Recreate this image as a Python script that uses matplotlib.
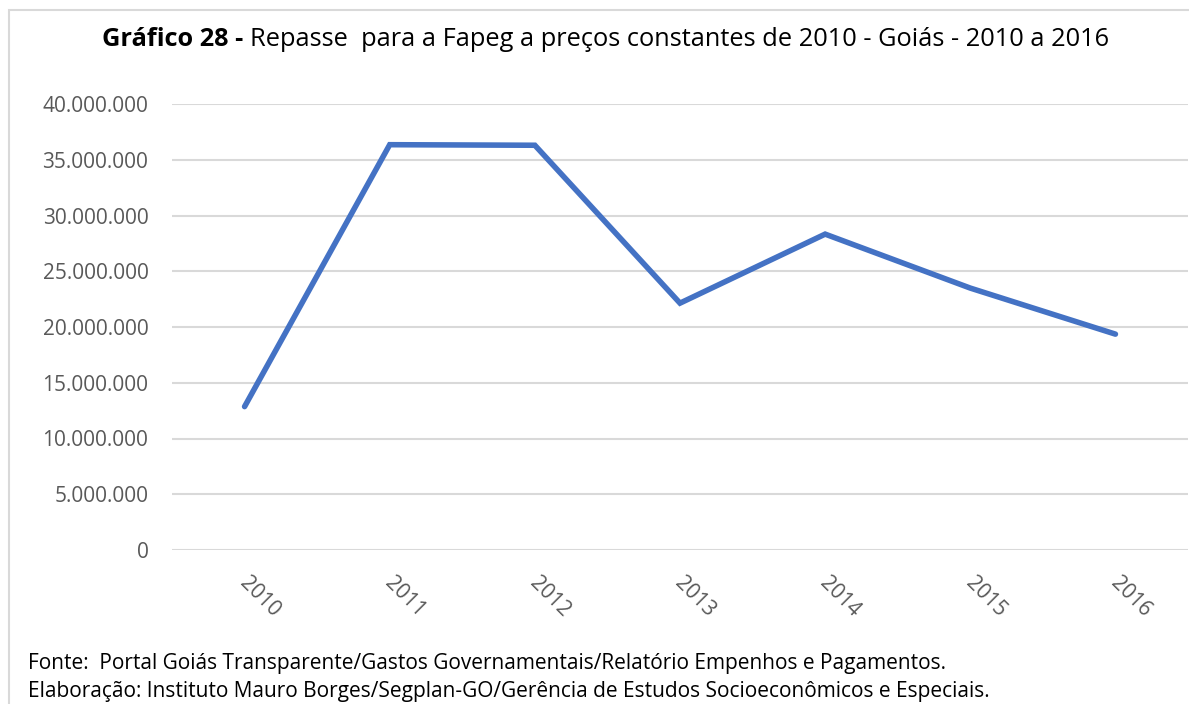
import numpy as np
import matplotlib
matplotlib.use("Agg")
import matplotlib.pyplot as plt
import matplotlib.transforms as mtransforms
from matplotlib.ticker import FuncFormatter
from matplotlib.patches import Rectangle

# dados
anos = ["2010", "2011", "2012", "2013", "2014", "2015", "2016"]
repasse = [12860000, 36350000, 36300000, 22140000, 28330000, 23490000, 19360000]
yticks = [0, 5000000, 10000000, 15000000, 20000000, 25000000, 30000000, 35000000, 40000000]

titulo_negrito = "Gráfico 28 - "
titulo_resto = "Repasse  para a Fapeg a preços constantes de 2010 - Goiás - 2010 a 2016"
fonte1 = "Fonte:  Portal Goiás Transparente/Gastos Governamentais/Relatório Empenhos e Pagamentos."
fonte2 = "Elaboração: Instituto Mauro Borges/Segplan-GO/Gerência de Estudos Socioeconômicos e Especiais."

plt.rcParams['font.family'] = ['Open Sans', 'DejaVu Sans']

W, H = 1189, 704
fig = plt.figure(figsize=(W / 100, H / 100), dpi=100)

# moldura cinza do gráfico
fig.patches.append(Rectangle((9 / W, -0.1), 1.2, 1 - 9.5 / H + 0.1, transform=fig.transFigure,
                             fill=False, edgecolor="#d9d9d9", linewidth=1.5))

ax = fig.add_axes([172 / W, 1 - 550 / H, (1188 - 172) / W, (550 - 104) / H])
x = np.arange(len(anos))
ax.plot(x, repasse, color="#4472c4", linewidth=4, solid_capstyle="round", solid_joinstyle="miter")
ax.set_xlim(-0.5, len(anos) - 0.5)
ax.set_ylim(0, 40000000)
ax.set_yticks(yticks)
ax.yaxis.set_major_formatter(FuncFormatter(lambda v, p: f"{int(v):,}".replace(",", ".")))
ax.set_xticks(x)
ax.set_xticklabels(anos, rotation=-45, ha="center", va="top")
ax.grid(axis="y", color="#d9d9d9", linewidth=1.5)
ax.set_axisbelow(True)
for s in ax.spines.values():
    s.set_visible(False)
ax.tick_params(axis="both", length=0, colors="#595959", labelsize=15)
ax.tick_params(axis="y", pad=17)
ax.tick_params(axis="x", pad=16)
# desloca os rótulos dos anos um pouco para a direita
desloc = mtransforms.ScaledTranslation(15 / 100, 0, fig.dpi_scale_trans)
for lbl in ax.get_xticklabels():
    lbl.set_transform(lbl.get_transform() + desloc)

# título com parte em negrito
fig.canvas.draw()
r = fig.canvas.get_renderer()
t1 = fig.text(0, 1 - 39 / H, titulo_negrito, fontsize=18.3, fontweight="bold", va="center", color="#000000")
t2 = fig.text(0, 1 - 39 / H, titulo_resto, fontsize=18.3, va="center", color="#000000")
w1 = t1.get_window_extent(r).width
w2 = t2.get_window_extent(r).width
x0 = (606 - (w1 + w2) / 2) / W
t1.set_x(x0)
t2.set_x(x0 + w1 / W)

fig.text(28 / W, 1 - 664 / H, fonte1, fontsize=15, va="center", color="#000000")
fig.text(28 / W, 1 - 691 / H, fonte2, fontsize=15, va="center", color="#000000")

fig.savefig("out.png", dpi=100)
